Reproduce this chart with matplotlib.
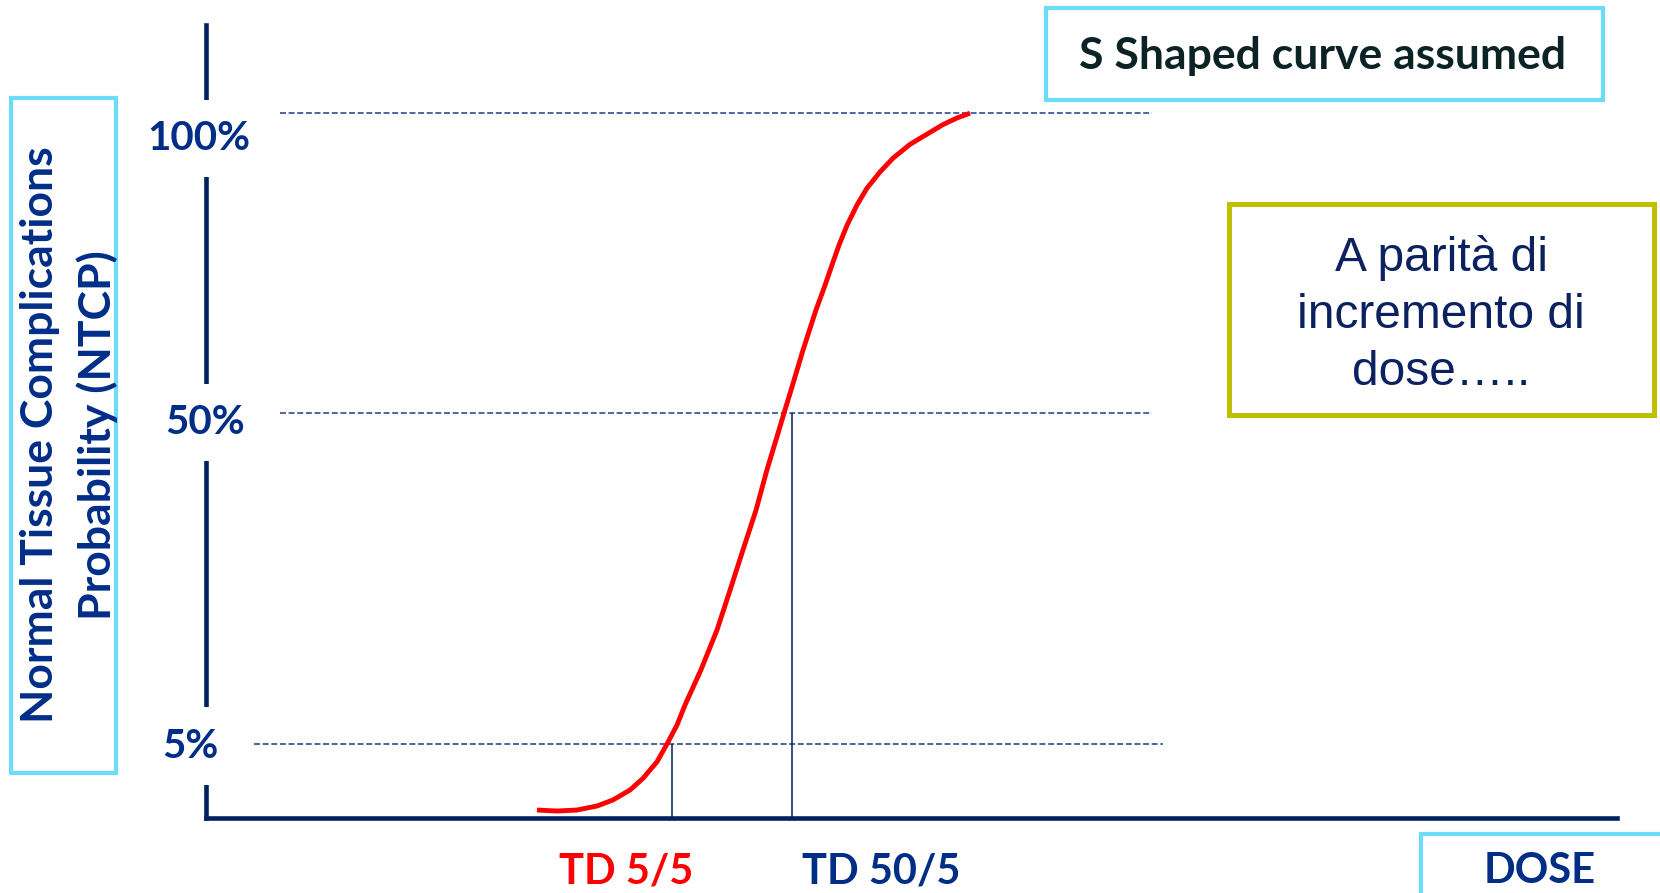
"""NTCP dose-response sketch: S-shaped curve with TD 5/5 and TD 50/5 markers."""
import numpy as np
import matplotlib

matplotlib.use("Agg")
import matplotlib.pyplot as plt  # noqa: E402
from matplotlib.patches import Rectangle  # noqa: E402

W, H = 1660, 893

# dose in arbitrary units, NTCP in percent
dose = [33.1, 35.1, 37.1, 39.1, 40.7, 42.4, 43.7, 45.1, 46.1, 47.1,
        47.9, 49.5, 51.1, 52.4, 53.7, 55.0, 56.1, 57.3, 57.8, 58.5,
        59.7, 61.0, 61.9, 62.6, 63.3, 64.1, 65.1, 66.1, 67.4, 68.7,
        70.4, 72.1, 73.7, 75.1, 76.4]
ntcp = [0.54, 0.47, 0.54, 0.81, 1.22, 1.89, 2.68, 3.80, 5.0, 7.58,
        10.3, 15.1, 20.5, 25.9, 31.4, 36.8, 42.3, 47.7, 50.0, 53.8,
        60.5, 67.2, 71.3, 74.7, 78.0, 81.3, 84.7, 87.5, 90.2, 92.5,
        94.8, 96.5, 98.1, 99.2, 100.0]

levels = [5, 50, 100]
level_labels = ["5%", "50%", "100%"]

td_dose = [46.6, 58.6]
td_level = [5, 50]
td_labels = ["TD 5/5", "TD 50/5"]

NAVY = "#002060"
BLUE_TXT = "#002D86"
DASH = "#1E3C8C"
CYAN = "#6CDCF9"
OLIVE = "#BFBF00"
RED = "#FF0000"

# schematic (non-linear) NTCP axis: stretch the low-probability region
NTCP_KNOTS = [-10, 0, 5, 50, 100, 200]
POS_KNOTS = [-148, 0, 74, 405, 705, 1305]


def _fwd(v):
    return np.interp(v, NTCP_KNOTS, POS_KNOTS)


def _inv(p):
    return np.interp(p, POS_KNOTS, NTCP_KNOTS)


def fx(x):
    return x / W


def fy(y):
    return 1 - y / H


def box(x0, y0, x1, y1, color, lw):
    rect = Rectangle((fx(x0), fy(y1)), (x1 - x0) / W, (y1 - y0) / H,
                     transform=fig.transFigure, fill=False, ec=color, lw=lw,
                     zorder=1)
    fig.add_artist(rect)


fig = plt.figure(figsize=(W / 100, H / 100), dpi=100)
ax = fig.add_axes([fx(206), (H - 818) / H, 1411 / W, 793 / H])
ax.set_yscale("function", functions=(_fwd, _inv))
ax.set_xlim(0, 141.1)
ax.set_ylim(0, 114.7)

for side in ("top", "right"):
    ax.spines[side].set_visible(False)
for side in ("left", "bottom"):
    ax.spines[side].set_color(NAVY)
    ax.spines[side].set_linewidth(3.3)
ax.set_xticks([])
ax.set_yticks([])
ax.minorticks_off()
ax.patch.set_alpha(0)

# reference levels
starts = [4.8, 7.4, 7.4]
ends = [95.7, 94.6, 94.6]
for lvl, x0, x1 in zip(levels, starts, ends):
    ax.plot([x0, x1], [lvl, lvl], color=DASH, lw=1.1,
            linestyle=(0, (3.9, 1.75)), zorder=2)

ax.vlines(td_dose, 0, td_level, color=NAVY, lw=1.1, zorder=2)

ax.plot(dose, ntcp, color=RED, lw=3.5, solid_capstyle="butt",
        solid_joinstyle="round", zorder=3)

# percentage labels sit on the axis, masking it behind them
offsets = [(-11.5, -1.5), (-1, -7), (-5, -18)]
for lvl, txt, off in zip(levels, level_labels, offsets):
    ax.annotate(txt, xy=(0, lvl), xytext=off, textcoords="offset points",
                ha="center", va="center", fontsize=29, fontweight="bold",
                family="Lato", color=BLUE_TXT, annotation_clip=False,
                zorder=5,
                bbox=dict(boxstyle="square,pad=0.5", fc="white", ec="none"))

# dose labels under the x axis
fig.text(fx(626), fy(883), td_labels[0], ha="center", va="baseline",
         fontsize=30, fontweight="bold", family="Lato", color=RED)
fig.text(fx(881), fy(883), td_labels[1], ha="center", va="baseline",
         fontsize=30, fontweight="bold", family="Lato", color=BLUE_TXT)

# y label box
box(11, 98, 116, 773, CYAN, 3)
fig.text(fx(53), fy(435), "Normal Tissue Complications", rotation=90,
         rotation_mode="anchor", ha="center", va="baseline", fontsize=32,
         fontweight="bold", family="Lato", color=BLUE_TXT)
fig.text(fx(111), fy(435), "Probability (NTCP)", rotation=90,
         rotation_mode="anchor", ha="center", va="baseline", fontsize=32,
         fontweight="bold", family="Lato", color=BLUE_TXT)

# x label box
box(1421, 834, 1664, 900, CYAN, 3)
fig.text(fx(1540), fy(883), "DOSE", ha="center", va="baseline", fontsize=30,
         fontweight="bold", family="Lato", color=BLUE_TXT)

# note boxes
box(1046, 8, 1603, 100, CYAN, 3)
fig.text(fx(1323), fy(69), "S Shaped curve assumed", ha="center",
         va="baseline", fontsize=32, fontweight="bold", family="Lato",
         color="#0C2326")

box(1229, 204, 1654, 415, OLIVE, 3.6)
note_lines = ["A parità di", "incremento di", "dose….."]
for i, line in enumerate(note_lines):
    fig.text(fx(1441), fy(271 + 57 * i), line, ha="center", va="baseline",
             fontsize=34.5, family="Liberation Sans", color="#0B2160")

fig.savefig("out.png", dpi=100)
